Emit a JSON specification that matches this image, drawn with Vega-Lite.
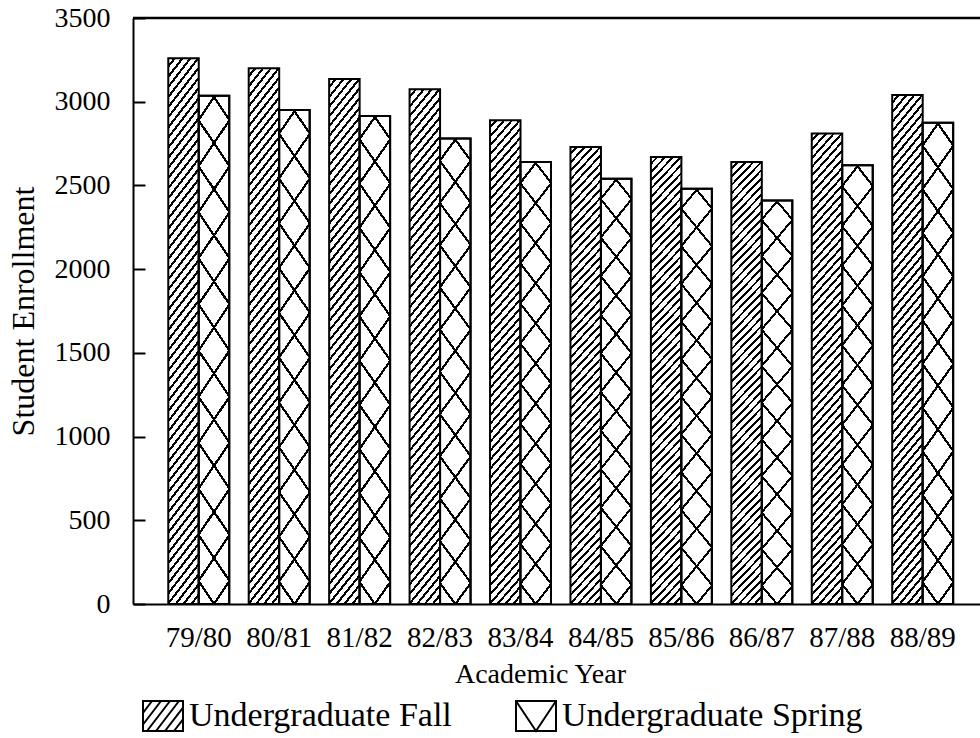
{
  "$schema": "https://vega.github.io/schema/vega-lite/v6.json",
  "autosize": {"type": "none"},
  "padding": {"left": 133, "top": 18, "right": 0, "bottom": 134},
  "width": 847,
  "height": 586,
  "background": "white",
  "config": {
    "view": {"stroke": null},
    "font": "Liberation Serif",
    "axis": {
      "domainColor": "black", "domainWidth": 2, "tickColor": "black", "tickWidth": 2,
      "labelColor": "black", "titleColor": "black", "labelFont": "Liberation Serif",
      "titleFont": "Liberation Serif", "titleFontWeight": "normal", "grid": false
    },
    "legend": {"labelFont": "Liberation Serif", "labelColor": "black"}
  },
  "data": {
    "values": [
      {"year": "79/80", "series": "Undergraduate Fall", "value": 3260},
      {"year": "79/80", "series": "Undergraduate Spring", "value": 3035},
      {"year": "80/81", "series": "Undergraduate Fall", "value": 3200},
      {"year": "80/81", "series": "Undergraduate Spring", "value": 2950},
      {"year": "81/82", "series": "Undergraduate Fall", "value": 3135},
      {"year": "81/82", "series": "Undergraduate Spring", "value": 2915},
      {"year": "82/83", "series": "Undergraduate Fall", "value": 3075},
      {"year": "82/83", "series": "Undergraduate Spring", "value": 2780},
      {"year": "83/84", "series": "Undergraduate Fall", "value": 2890},
      {"year": "83/84", "series": "Undergraduate Spring", "value": 2640},
      {"year": "84/85", "series": "Undergraduate Fall", "value": 2730},
      {"year": "84/85", "series": "Undergraduate Spring", "value": 2540},
      {"year": "85/86", "series": "Undergraduate Fall", "value": 2670},
      {"year": "85/86", "series": "Undergraduate Spring", "value": 2480},
      {"year": "86/87", "series": "Undergraduate Fall", "value": 2640},
      {"year": "86/87", "series": "Undergraduate Spring", "value": 2410},
      {"year": "87/88", "series": "Undergraduate Fall", "value": 2810},
      {"year": "87/88", "series": "Undergraduate Spring", "value": 2620},
      {"year": "88/89", "series": "Undergraduate Fall", "value": 3040},
      {"year": "88/89", "series": "Undergraduate Spring", "value": 2875}
    ]
  },
  "layer": [
    {
      "transform": [{"filter": "datum.series === 'Undergraduate Fall'"}],
      "mark": {
        "type": "bar", "strokeWidth": 2, "stroke": "black",
        "fill": {
          "gradient": "linear", "x1": 0, "y1": 0, "x2": 0.0834, "y2": 1.154,
          "stops": [
            {"offset":0,"color":"#fff"},{"offset":0.0105,"color":"#fff"},{"offset":0.0105,"color":"#000"},{"offset":0.016,"color":"#000"},
            {"offset":0.016,"color":"#fff"},{"offset":0.0265,"color":"#fff"},{"offset":0.0265,"color":"#000"},{"offset":0.032,"color":"#000"},
            {"offset":0.032,"color":"#fff"},{"offset":0.0425,"color":"#fff"},{"offset":0.0425,"color":"#000"},{"offset":0.048,"color":"#000"},
            {"offset":0.048,"color":"#fff"},{"offset":0.0585,"color":"#fff"},{"offset":0.0585,"color":"#000"},{"offset":0.064,"color":"#000"},
            {"offset":0.064,"color":"#fff"},{"offset":0.0745,"color":"#fff"},{"offset":0.0745,"color":"#000"},{"offset":0.08,"color":"#000"},
            {"offset":0.08,"color":"#fff"},{"offset":0.0905,"color":"#fff"},{"offset":0.0905,"color":"#000"},{"offset":0.096,"color":"#000"},
            {"offset":0.096,"color":"#fff"},{"offset":0.1065,"color":"#fff"},{"offset":0.1065,"color":"#000"},{"offset":0.112,"color":"#000"},
            {"offset":0.112,"color":"#fff"},{"offset":0.1225,"color":"#fff"},{"offset":0.1225,"color":"#000"},{"offset":0.128,"color":"#000"},
            {"offset":0.128,"color":"#fff"},{"offset":0.1385,"color":"#fff"},{"offset":0.1385,"color":"#000"},{"offset":0.144,"color":"#000"},
            {"offset":0.144,"color":"#fff"},{"offset":0.1545,"color":"#fff"},{"offset":0.1545,"color":"#000"},{"offset":0.16,"color":"#000"},
            {"offset":0.16,"color":"#fff"},{"offset":0.1705,"color":"#fff"},{"offset":0.1705,"color":"#000"},{"offset":0.176,"color":"#000"},
            {"offset":0.176,"color":"#fff"},{"offset":0.1865,"color":"#fff"},{"offset":0.1865,"color":"#000"},{"offset":0.192,"color":"#000"},
            {"offset":0.192,"color":"#fff"},{"offset":0.2025,"color":"#fff"},{"offset":0.2025,"color":"#000"},{"offset":0.208,"color":"#000"},
            {"offset":0.208,"color":"#fff"},{"offset":0.2185,"color":"#fff"},{"offset":0.2185,"color":"#000"},{"offset":0.224,"color":"#000"},
            {"offset":0.224,"color":"#fff"},{"offset":0.2345,"color":"#fff"},{"offset":0.2345,"color":"#000"},{"offset":0.24,"color":"#000"},
            {"offset":0.24,"color":"#fff"},{"offset":0.2505,"color":"#fff"},{"offset":0.2505,"color":"#000"},{"offset":0.256,"color":"#000"},
            {"offset":0.256,"color":"#fff"},{"offset":0.2665,"color":"#fff"},{"offset":0.2665,"color":"#000"},{"offset":0.272,"color":"#000"},
            {"offset":0.272,"color":"#fff"},{"offset":0.2825,"color":"#fff"},{"offset":0.2825,"color":"#000"},{"offset":0.288,"color":"#000"},
            {"offset":0.288,"color":"#fff"},{"offset":0.2985,"color":"#fff"},{"offset":0.2985,"color":"#000"},{"offset":0.304,"color":"#000"},
            {"offset":0.304,"color":"#fff"},{"offset":0.3145,"color":"#fff"},{"offset":0.3145,"color":"#000"},{"offset":0.32,"color":"#000"},
            {"offset":0.32,"color":"#fff"},{"offset":0.3305,"color":"#fff"},{"offset":0.3305,"color":"#000"},{"offset":0.336,"color":"#000"},
            {"offset":0.336,"color":"#fff"},{"offset":0.3465,"color":"#fff"},{"offset":0.3465,"color":"#000"},{"offset":0.352,"color":"#000"},
            {"offset":0.352,"color":"#fff"},{"offset":0.3625,"color":"#fff"},{"offset":0.3625,"color":"#000"},{"offset":0.368,"color":"#000"},
            {"offset":0.368,"color":"#fff"},{"offset":0.3785,"color":"#fff"},{"offset":0.3785,"color":"#000"},{"offset":0.384,"color":"#000"},
            {"offset":0.384,"color":"#fff"},{"offset":0.3945,"color":"#fff"},{"offset":0.3945,"color":"#000"},{"offset":0.4,"color":"#000"},
            {"offset":0.4,"color":"#fff"},{"offset":0.4105,"color":"#fff"},{"offset":0.4105,"color":"#000"},{"offset":0.416,"color":"#000"},
            {"offset":0.416,"color":"#fff"},{"offset":0.4265,"color":"#fff"},{"offset":0.4265,"color":"#000"},{"offset":0.432,"color":"#000"},
            {"offset":0.432,"color":"#fff"},{"offset":0.4425,"color":"#fff"},{"offset":0.4425,"color":"#000"},{"offset":0.448,"color":"#000"},
            {"offset":0.448,"color":"#fff"},{"offset":0.4585,"color":"#fff"},{"offset":0.4585,"color":"#000"},{"offset":0.464,"color":"#000"},
            {"offset":0.464,"color":"#fff"},{"offset":0.4745,"color":"#fff"},{"offset":0.4745,"color":"#000"},{"offset":0.48,"color":"#000"},
            {"offset":0.48,"color":"#fff"},{"offset":0.4905,"color":"#fff"},{"offset":0.4905,"color":"#000"},{"offset":0.496,"color":"#000"},
            {"offset":0.496,"color":"#fff"},{"offset":0.5065,"color":"#fff"},{"offset":0.5065,"color":"#000"},{"offset":0.512,"color":"#000"},
            {"offset":0.512,"color":"#fff"},{"offset":0.5225,"color":"#fff"},{"offset":0.5225,"color":"#000"},{"offset":0.528,"color":"#000"},
            {"offset":0.528,"color":"#fff"},{"offset":0.5385,"color":"#fff"},{"offset":0.5385,"color":"#000"},{"offset":0.544,"color":"#000"},
            {"offset":0.544,"color":"#fff"},{"offset":0.5545,"color":"#fff"},{"offset":0.5545,"color":"#000"},{"offset":0.56,"color":"#000"},
            {"offset":0.56,"color":"#fff"},{"offset":0.5705,"color":"#fff"},{"offset":0.5705,"color":"#000"},{"offset":0.576,"color":"#000"},
            {"offset":0.576,"color":"#fff"},{"offset":0.5865,"color":"#fff"},{"offset":0.5865,"color":"#000"},{"offset":0.592,"color":"#000"},
            {"offset":0.592,"color":"#fff"},{"offset":0.6025,"color":"#fff"},{"offset":0.6025,"color":"#000"},{"offset":0.608,"color":"#000"},
            {"offset":0.608,"color":"#fff"},{"offset":0.6185,"color":"#fff"},{"offset":0.6185,"color":"#000"},{"offset":0.624,"color":"#000"},
            {"offset":0.624,"color":"#fff"},{"offset":0.6345,"color":"#fff"},{"offset":0.6345,"color":"#000"},{"offset":0.64,"color":"#000"},
            {"offset":0.64,"color":"#fff"},{"offset":0.6505,"color":"#fff"},{"offset":0.6505,"color":"#000"},{"offset":0.656,"color":"#000"},
            {"offset":0.656,"color":"#fff"},{"offset":0.6665,"color":"#fff"},{"offset":0.6665,"color":"#000"},{"offset":0.672,"color":"#000"},
            {"offset":0.672,"color":"#fff"},{"offset":0.6825,"color":"#fff"},{"offset":0.6825,"color":"#000"},{"offset":0.688,"color":"#000"},
            {"offset":0.688,"color":"#fff"},{"offset":0.6985,"color":"#fff"},{"offset":0.6985,"color":"#000"},{"offset":0.704,"color":"#000"},
            {"offset":0.704,"color":"#fff"},{"offset":0.7145,"color":"#fff"},{"offset":0.7145,"color":"#000"},{"offset":0.72,"color":"#000"},
            {"offset":0.72,"color":"#fff"},{"offset":0.7305,"color":"#fff"},{"offset":0.7305,"color":"#000"},{"offset":0.736,"color":"#000"},
            {"offset":0.736,"color":"#fff"},{"offset":0.7465,"color":"#fff"},{"offset":0.7465,"color":"#000"},{"offset":0.752,"color":"#000"},
            {"offset":0.752,"color":"#fff"},{"offset":0.7625,"color":"#fff"},{"offset":0.7625,"color":"#000"},{"offset":0.768,"color":"#000"},
            {"offset":0.768,"color":"#fff"},{"offset":0.7785,"color":"#fff"},{"offset":0.7785,"color":"#000"},{"offset":0.784,"color":"#000"},
            {"offset":0.784,"color":"#fff"},{"offset":0.7945,"color":"#fff"},{"offset":0.7945,"color":"#000"},{"offset":0.8,"color":"#000"},
            {"offset":0.8,"color":"#fff"},{"offset":0.8105,"color":"#fff"},{"offset":0.8105,"color":"#000"},{"offset":0.816,"color":"#000"},
            {"offset":0.816,"color":"#fff"},{"offset":0.8265,"color":"#fff"},{"offset":0.8265,"color":"#000"},{"offset":0.832,"color":"#000"},
            {"offset":0.832,"color":"#fff"},{"offset":0.8425,"color":"#fff"},{"offset":0.8425,"color":"#000"},{"offset":0.848,"color":"#000"},
            {"offset":0.848,"color":"#fff"},{"offset":0.8585,"color":"#fff"},{"offset":0.8585,"color":"#000"},{"offset":0.864,"color":"#000"},
            {"offset":0.864,"color":"#fff"},{"offset":0.8745,"color":"#fff"},{"offset":0.8745,"color":"#000"},{"offset":0.88,"color":"#000"},
            {"offset":0.88,"color":"#fff"},{"offset":0.8905,"color":"#fff"},{"offset":0.8905,"color":"#000"},{"offset":0.896,"color":"#000"},
            {"offset":0.896,"color":"#fff"},{"offset":0.9065,"color":"#fff"},{"offset":0.9065,"color":"#000"},{"offset":0.912,"color":"#000"},
            {"offset":0.912,"color":"#fff"},{"offset":0.9225,"color":"#fff"},{"offset":0.9225,"color":"#000"},{"offset":0.928,"color":"#000"},
            {"offset":0.928,"color":"#fff"},{"offset":1,"color":"#fff"}
          ]
        }
      },
      "encoding": {
        "x": {"field": "year", "type": "nominal", "sort": null,
          "scale": {"paddingInner": 0.242, "paddingOuter": 0.386, "align": 0.568},
          "axis": {"title": "Academic Year", "titleFontSize": 28, "titleX": 407, "titleY": 78, "titleBaseline": "alphabetic",
            "labelFontSize": 29, "labelPadding": 19, "ticks": false, "labelAngle": 0}},
        "xOffset": {"field": "series", "type": "nominal",
          "scale": {"domain": ["Undergraduate Fall", "Undergraduate Spring"], "paddingInner": 0, "paddingOuter": 0}},
        "y": {"field": "value", "type": "quantitative",
          "scale": {"domain": [0, 3500], "nice": false},
          "axis": {"title": "Student Enrollment", "titleFontSize": 32, "titleX": -100, "titleBaseline": "alphabetic",
            "values": [0, 500, 1000, 1500, 2000, 2500, 3000, 3500], "format": "d", "tickSize": -12, "labelPadding": 35, "labelFontSize": 28}}
      }
    },
    {
      "transform": [{"filter": "datum.series === 'Undergraduate Spring'"}],
      "mark": {
        "type": "bar", "strokeWidth": 2, "stroke": "black",
        "fill": {
          "gradient": "linear", "x1": 0.5, "y1": 1.0907, "x2": 0.6002, "y2": -0.0341,
          "stops": [
            {"offset":0,"color":"#fff"},
            {"offset":0.0765,"color":"#fff"},{"offset":0.0765,"color":"#000"},{"offset":0.0835,"color":"#000"},{"offset":0.0835,"color":"#fff"},
            {"offset":0.1565,"color":"#fff"},{"offset":0.1565,"color":"#000"},{"offset":0.1635,"color":"#000"},{"offset":0.1635,"color":"#fff"},
            {"offset":0.2365,"color":"#fff"},{"offset":0.2365,"color":"#000"},{"offset":0.2435,"color":"#000"},{"offset":0.2435,"color":"#fff"},
            {"offset":0.3165,"color":"#fff"},{"offset":0.3165,"color":"#000"},{"offset":0.3235,"color":"#000"},{"offset":0.3235,"color":"#fff"},
            {"offset":0.3965,"color":"#fff"},{"offset":0.3965,"color":"#000"},{"offset":0.4035,"color":"#000"},{"offset":0.4035,"color":"#fff"},
            {"offset":0.4765,"color":"#fff"},{"offset":0.4765,"color":"#000"},{"offset":0.4835,"color":"#000"},{"offset":0.4835,"color":"#fff"},
            {"offset":0.5565,"color":"#fff"},{"offset":0.5565,"color":"#000"},{"offset":0.5635,"color":"#000"},{"offset":0.5635,"color":"#fff"},
            {"offset":0.6365,"color":"#fff"},{"offset":0.6365,"color":"#000"},{"offset":0.6435,"color":"#000"},{"offset":0.6435,"color":"#fff"},
            {"offset":0.7165,"color":"#fff"},{"offset":0.7165,"color":"#000"},{"offset":0.7235,"color":"#000"},{"offset":0.7235,"color":"#fff"},
            {"offset":0.7965,"color":"#fff"},{"offset":0.7965,"color":"#000"},{"offset":0.8035,"color":"#000"},{"offset":0.8035,"color":"#fff"},
            {"offset":0.8765,"color":"#fff"},{"offset":0.8765,"color":"#000"},{"offset":0.8835,"color":"#000"},{"offset":0.8835,"color":"#fff"},
            {"offset":0.9565,"color":"#fff"},{"offset":0.9565,"color":"#000"},{"offset":0.9635,"color":"#000"},{"offset":0.9635,"color":"#fff"},
            {"offset":1,"color":"#fff"}
          ]
        }
      },
      "encoding": {
        "x": {"field": "year", "type": "nominal", "sort": null},
        "xOffset": {"field": "series", "type": "nominal"},
        "y": {"field": "value", "type": "quantitative"}
      }
    },
    {
      "transform": [{"filter": "datum.series === 'Undergraduate Spring'"}],
      "mark": {
        "type": "bar", "strokeWidth": 2, "stroke": "black",
        "fill": {
          "gradient": "linear", "x1": 0.5, "y1": 1.0907, "x2": 0.3998, "y2": -0.0341,
          "stops": [
            {"offset":0,"color":"rgba(0,0,0,0)"},
            {"offset":0.0765,"color":"rgba(0,0,0,0)"},{"offset":0.0765,"color":"#000"},{"offset":0.0835,"color":"#000"},{"offset":0.0835,"color":"rgba(0,0,0,0)"},
            {"offset":0.1565,"color":"rgba(0,0,0,0)"},{"offset":0.1565,"color":"#000"},{"offset":0.1635,"color":"#000"},{"offset":0.1635,"color":"rgba(0,0,0,0)"},
            {"offset":0.2365,"color":"rgba(0,0,0,0)"},{"offset":0.2365,"color":"#000"},{"offset":0.2435,"color":"#000"},{"offset":0.2435,"color":"rgba(0,0,0,0)"},
            {"offset":0.3165,"color":"rgba(0,0,0,0)"},{"offset":0.3165,"color":"#000"},{"offset":0.3235,"color":"#000"},{"offset":0.3235,"color":"rgba(0,0,0,0)"},
            {"offset":0.3965,"color":"rgba(0,0,0,0)"},{"offset":0.3965,"color":"#000"},{"offset":0.4035,"color":"#000"},{"offset":0.4035,"color":"rgba(0,0,0,0)"},
            {"offset":0.4765,"color":"rgba(0,0,0,0)"},{"offset":0.4765,"color":"#000"},{"offset":0.4835,"color":"#000"},{"offset":0.4835,"color":"rgba(0,0,0,0)"},
            {"offset":0.5565,"color":"rgba(0,0,0,0)"},{"offset":0.5565,"color":"#000"},{"offset":0.5635,"color":"#000"},{"offset":0.5635,"color":"rgba(0,0,0,0)"},
            {"offset":0.6365,"color":"rgba(0,0,0,0)"},{"offset":0.6365,"color":"#000"},{"offset":0.6435,"color":"#000"},{"offset":0.6435,"color":"rgba(0,0,0,0)"},
            {"offset":0.7165,"color":"rgba(0,0,0,0)"},{"offset":0.7165,"color":"#000"},{"offset":0.7235,"color":"#000"},{"offset":0.7235,"color":"rgba(0,0,0,0)"},
            {"offset":0.7965,"color":"rgba(0,0,0,0)"},{"offset":0.7965,"color":"#000"},{"offset":0.8035,"color":"#000"},{"offset":0.8035,"color":"rgba(0,0,0,0)"},
            {"offset":0.8765,"color":"rgba(0,0,0,0)"},{"offset":0.8765,"color":"#000"},{"offset":0.8835,"color":"#000"},{"offset":0.8835,"color":"rgba(0,0,0,0)"},
            {"offset":0.9565,"color":"rgba(0,0,0,0)"},{"offset":0.9565,"color":"#000"},{"offset":0.9635,"color":"#000"},{"offset":0.9635,"color":"rgba(0,0,0,0)"},
            {"offset":1,"color":"rgba(0,0,0,0)"}
          ]
        }
      },
      "encoding": {
        "x": {"field": "year", "type": "nominal", "sort": null},
        "xOffset": {"field": "series", "type": "nominal"},
        "y": {"field": "value", "type": "quantitative"}
      }
    },
    {
      "mark": {"type": "point", "opacity": 0, "filled": false, "stroke": "black"},
      "encoding": {
        "x": {"field": "year", "type": "nominal", "sort": null},
        "xOffset": {"field": "series", "type": "nominal"},
        "y": {"field": "value", "type": "quantitative"},
        "shape": {"field": "series", "type": "nominal",
          "scale": {"domain": ["Undergraduate Fall", "Undergraduate Spring"],
            "range": [
              "M-1,-0.75H1V0.75H-1Z M-1,-0.16L-0.55,-0.75 M-1,0.425L-0.1,-0.75 M-0.8,0.75L0.35,-0.75 M-0.35,0.75L0.8,-0.75 M0.1,0.75L1,-0.42 M0.55,0.75L1,0.165",
              "M-1,-0.75H1V0.75H-1Z M-1,-0.75L0,0.75L1,-0.75"
            ]},
          "legend": {
            "title": null, "orient": "none", "legendX": 9, "legendY": 677, "direction": "horizontal",
            "labelFontSize": 34, "labelOffset": 5, "labelLimit": 0, "columnPadding": 60, "symbolSize": 1600,
            "symbolStrokeWidth": 2, "symbolStrokeColor": "black", "symbolFillColor": "white", "symbolOpacity": 1
          }
        }
      }
    },
    {
      "data": {"values": [{"edge": "top"}]},
      "mark": {"type": "rule", "color": "black", "strokeWidth": 2.5},
      "encoding": {"y": {"datum": 3500}}
    }
  ]
}
